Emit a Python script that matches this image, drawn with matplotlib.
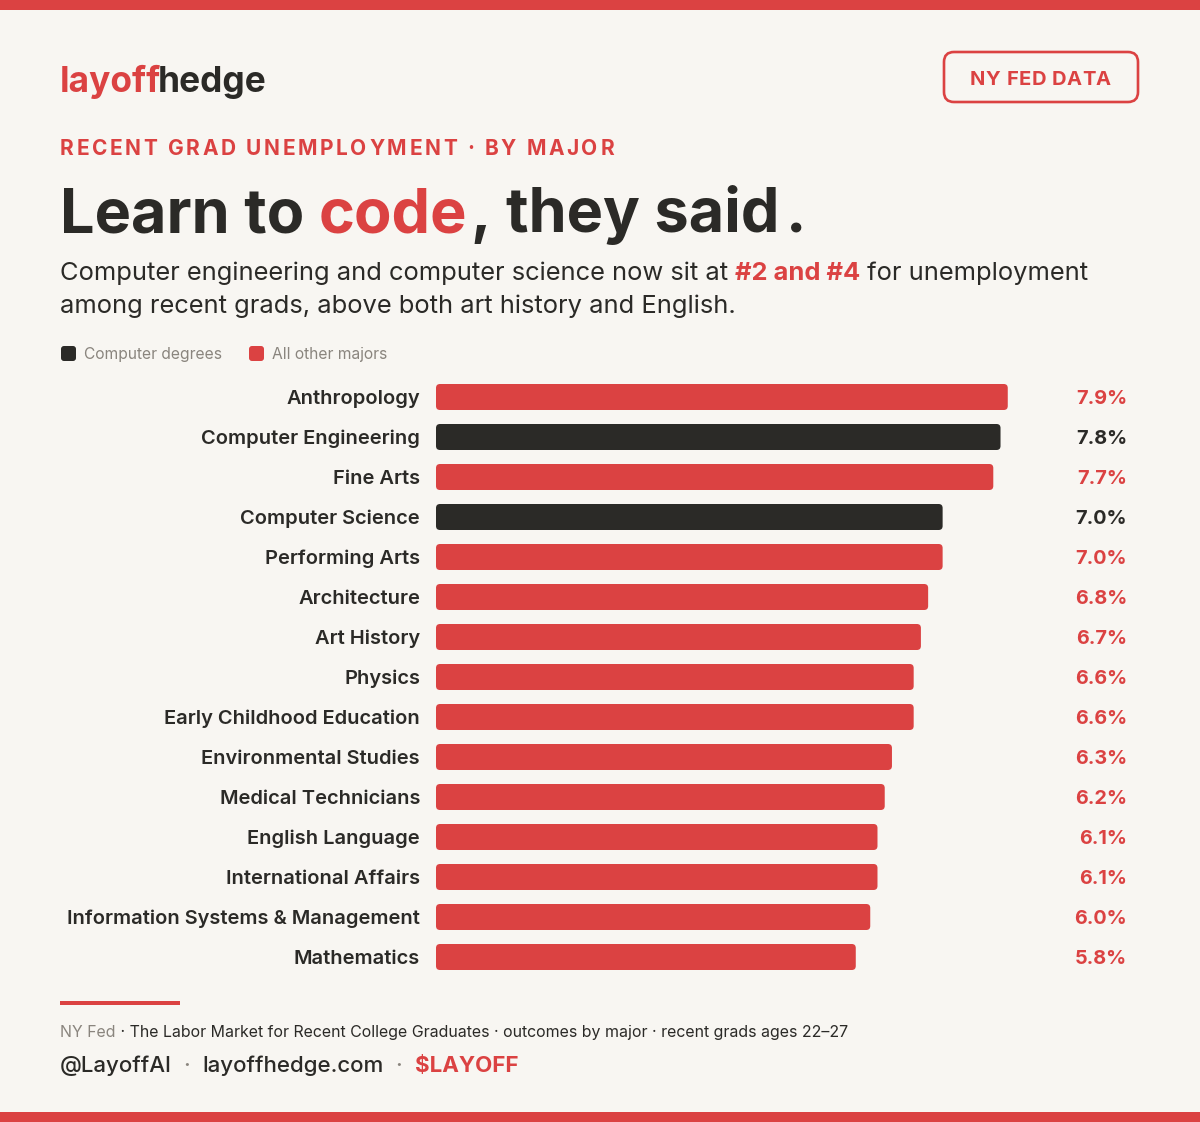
import matplotlib
matplotlib.use("Agg")
import matplotlib.pyplot as plt
from matplotlib.patches import FancyBboxPatch, Rectangle
from matplotlib import transforms

# data, top to bottom as in the chart
majors = ["Anthropology", "Computer Engineering", "Fine Arts", "Computer Science",
          "Performing Arts", "Architecture", "Art History", "Physics",
          "Early Childhood Education", "Environmental Studies", "Medical Technicians",
          "English Language", "International Affairs", "Information Systems & Management",
          "Mathematics"]
rates = [7.9, 7.8, 7.7, 7.0, 7.0, 6.8, 6.7, 6.6, 6.6, 6.3, 6.2, 6.1, 6.1, 6.0, 5.8]
is_computer = [False, True, False, True, False, False, False, False,
               False, False, False, False, False, False, False]

W, H = 1200, 1122
BG = "#f8f6f2"
RED = "#db4242"
DARK = "#2b2a27"
GRAY = "#8a857e"

plt.rcParams['font.family'] = ['Inter', 'DejaVu Sans']

fig = plt.figure(figsize=(W / 100, H / 100), dpi=100)
fig.patch.set_facecolor(BG)
renderer = fig.canvas.get_renderer()

# full-figure layer in pixel units (y downwards) for the decorations
deco = fig.add_axes([0, 0, 1, 1], zorder=0)
deco.set_xlim(0, W)
deco.set_ylim(H, 0)
deco.axis("off")


def measure(s, size, weight="normal"):
    t = deco.text(0, 0, s, fontsize=size, fontweight=weight)
    w = t.get_window_extent(renderer).width
    t.remove()
    return w


def adv(s, size, weight="normal"):
    # advance width, trailing spaces included
    return measure(s + "x", size, weight) - measure("x", size, weight)


def fit(s, width, weight="normal"):
    return 20 * width / measure(s, 20, weight)


def put_runs(x, y, runs, size, track=0.0, va="baseline"):
    for s, color, weight in runs:
        if track:
            for ch in s:
                deco.text(x, y, ch, fontsize=size, fontweight=weight, color=color, va=va)
                x += adv(ch, size, weight) + track
        else:
            deco.text(x, y, s, fontsize=size, fontweight=weight, color=color, va=va)
            x += adv(s, size, weight)
    return x


# top / bottom strips
deco.add_patch(Rectangle((0, 0), W, 10, fc=RED, ec="none"))
deco.add_patch(Rectangle((0, H - 10), W, 10, fc=RED, ec="none"))

# logo
s_logo = fit("layoffhedge", 210, "bold")
x = put_runs(60, 92, [("layoff", RED, "bold")], s_logo)
put_runs(x - 3, 92, [("hedge", DARK, "bold")], s_logo)

# badge
deco.add_patch(FancyBboxPatch((944, 52), 194, 50, boxstyle="round,pad=0,rounding_size=10",
                              fc="none", ec=RED, lw=1.9))
badge = "NY FED DATA"
s_badge = 14.5
tr = (141 - adv(badge, s_badge, "bold")) / (len(badge) - 1)
put_runs(970, 85, [(badge, RED, "bold")], s_badge, track=tr)

# kicker
kicker = "RECENT GRAD UNEMPLOYMENT · BY MAJOR"
s_kick = 15
tr = (554 - adv(kicker, s_kick, "bold")) / (len(kicker) - 1)
put_runs(60, 155, [(kicker, RED, "bold")], s_kick, track=tr)

# title (small gaps before the comma and the period, as in the original)
s_title = fit("Learn to code, they said.", 738, "bold")
x = put_runs(60, 232, [("Learn to ", DARK, "bold"), ("code", RED, "bold")], s_title)
x = put_runs(x + 4, 232, [(", they said", DARK, "bold")], s_title)
put_runs(x + 6, 232, [(".", DARK, "bold")], s_title)

# subtitle
line1 = [("Computer engineering and computer science now sit at ", DARK, "normal"),
         ("#2 and #4", RED, "bold"), (" for unemployment", DARK, "normal")]
base = sum(adv(s, 20, w) for s, c, w in line1)
s_sub = 20 * 1030 / base
put_runs(60, 280, line1, s_sub)
put_runs(60, 313, [("among recent grads, above both art history and English.", DARK, "normal")], s_sub)

# legend
deco.add_patch(FancyBboxPatch((61, 346), 15, 15, boxstyle="round,pad=0,rounding_size=3",
                              fc=DARK, ec="none"))
deco.add_patch(FancyBboxPatch((249, 346), 15, 15, boxstyle="round,pad=0,rounding_size=3",
                              fc=RED, ec="none"))
s_leg = fit("Computer degrees", 138)
deco.text(84, 354, "Computer degrees", fontsize=s_leg, color=GRAY, va="center")
deco.text(272, 354, "All other majors", fontsize=s_leg, color=GRAY, va="center")

# bars
ax = fig.add_axes([436 / W, 1 - 977 / H, 579 / W, 600 / H], zorder=2)
ax.patch.set_alpha(0)
ypos = list(range(len(majors)))
colors = [DARK if c else RED for c in is_computer]
bars = ax.barh(ypos, rates, height=0.65, color=colors)
ax.set_xlim(0, 8.0)
ax.set_ylim(len(majors) - 0.5, -0.5)
xu = 8.0 / 579
yu = len(majors) / 600
for b in bars:
    fb = FancyBboxPatch(b.get_xy(), b.get_width(), b.get_height(),
                        boxstyle="round,pad=0,rounding_size=%f" % (4 * xu),
                        mutation_aspect=yu / xu, fc=b.get_facecolor(), ec="none")
    ax.add_patch(fb)
    b.remove()

s_cat = fit("Early Childhood Education", 256, "semibold")
ax.set_yticks(ypos)
ax.set_yticklabels(majors, fontsize=s_cat, fontweight="semibold", color=DARK,
                   va="center_baseline")
ax.tick_params(axis="y", length=0, pad=16 * 72 / 100)
ax.set_xticks([])
for sp in ax.spines.values():
    sp.set_visible(False)

s_val = fit("7.9%", 51, "bold")
trans = transforms.blended_transform_factory(deco.transData, ax.transData)
for yv, r, c in zip(ypos, rates, colors):
    ax.text(1127, yv, "%.1f%%" % r, transform=trans, ha="right", va="center_baseline",
            fontsize=s_val, fontweight="bold", color=c)

# footer
deco.add_patch(Rectangle((60, 1001), 120, 4, fc=RED, ec="none"))
src = [("NY Fed", GRAY, "normal"),
       (" · The Labor Market for Recent College Graduates · outcomes by major · recent grads ages 22–27",
        DARK, "normal")]
base = sum(adv(s, 20, w) for s, c, w in src)
put_runs(60, 1037, src, 20 * 789 / base)

handles = [("@LayoffAI", DARK, "medium"), ("  ·  ", GRAY, "medium"),
           ("layoffhedge.com", DARK, "medium"), ("  ·  ", GRAY, "medium"),
           ("$LAYOFF", RED, "bold")]
base = sum(adv(s, 20, w) for s, c, w in handles)
put_runs(60, 1072, handles, 20 * 458 / base)

fig.savefig("out.png", dpi=100, facecolor=BG)
